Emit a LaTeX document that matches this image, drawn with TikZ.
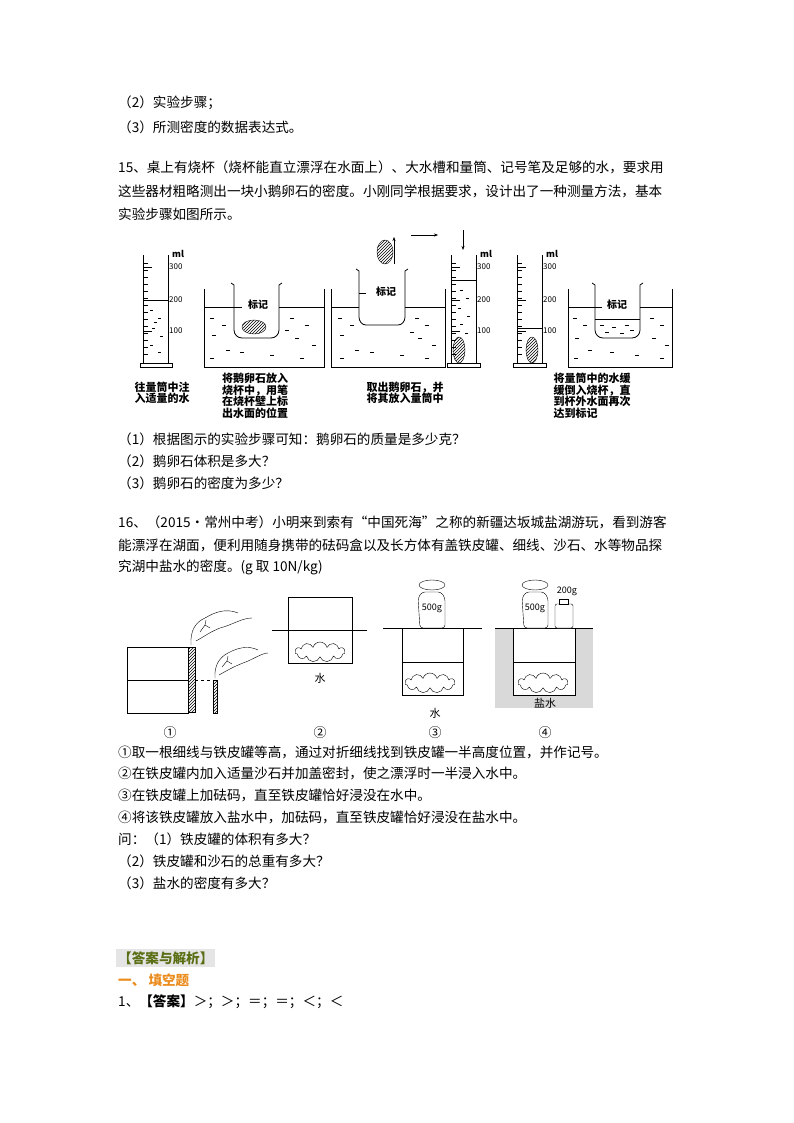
\documentclass[tikz,border=0pt]{standalone}
\usepackage{fontspec}
\setmainfont{Noto Sans CJK SC}
\usetikzlibrary{shapes.symbols,patterns,arrows.meta}
\definecolor{olivetxt}{RGB}{90,110,20}
\definecolor{orangetxt}{RGB}{235,140,30}
\begin{document}
\begin{tikzpicture}[x=1pt,y=-1pt,
 tl/.style={anchor=west,inner sep=0,font=\fontsize{13.6}{15}\selectfont},
 capt/.style={align=left,inner sep=0,font=\fontsize{11}{11.5}\selectfont\bfseries},
 scl/.style={anchor=west,inner sep=0,font=\fontsize{8}{9}\selectfont},
 ln/.style={line width=0.8pt},
 rock/.style={cloud,cloud puffs=11,draw,fill=white,minimum width=30,minimum height=16,inner sep=0},
 wtr/.style={line width=0.5pt},
 num/.style={inner sep=0,font=\fontsize{13}{13}\selectfont}]
\useasboundingbox (0,0) rectangle (794,1123);
% text
\node[tl] (t1) at (118,103) {（2）实验步骤；};
\node[tl] (t2) at (118,127) {（3）所测密度的数据表达式。};
\node[tl] (t3) at (118,167) {15、桌上有烧杯（烧杯能直立漂浮在水面上）、大水槽和量筒、记号笔及足够的水，要求用};
\node[tl] (t4) at (118,191) {这些器材粗略测出一块小鹅卵石的密度。小刚同学根据要求，设计出了一种测量方法，基本};
\node[tl] (t5) at (118,214) {实验步骤如图所示。};
\node[tl] (q1) at (118,439) {（1）根据图示的实验步骤可知：鹅卵石的质量是多少克？};
\node[tl] (q2) at (118,461) {（2）鹅卵石体积是多大？};
\node[tl] (q3) at (118,483) {（3）鹅卵石的密度为多少？};
\node[tl] (s1) at (118,522) {16、（2015•常州中考）小明来到索有“中国死海”之称的新疆达坂城盐湖游玩，看到游客};
\node[tl] (s2) at (118,545) {能漂浮在湖面，便利用随身携带的砝码盒以及长方体有盖铁皮罐、细线、沙石、水等物品探};
\node[tl] (s3) at (118,567) {究湖中盐水的密度。(g 取 10N/kg)};
\node[tl] (p1) at (118,752) {①取一根细线与铁皮罐等高，通过对折细线找到铁皮罐一半高度位置，并作记号。};
\node[tl] (p2) at (118,773) {②在铁皮罐内加入适量沙石并加盖密封，使之漂浮时一半浸入水中。};
\node[tl] (p3) at (118,795) {③在铁皮罐上加砝码，直至铁皮罐恰好浸没在水中。};
\node[tl] (p4) at (118,817) {④将该铁皮罐放入盐水中，加砝码，直至铁皮罐恰好浸没在盐水中。};
\node[tl] (p5) at (118,839) {问：（1）铁皮罐的体积有多大？};
\node[tl] (p6) at (118,861) {（2）铁皮罐和沙石的总重有多大？};
\node[tl] (p7) at (118,883) {（3）盐水的密度有多大？};
\node[tl,fill=black!10,inner sep=2pt,text=olivetxt,font=\fontsize{13.6}{15}\selectfont\bfseries] (ans) at (116,958) {【答案与解析】};
\node[tl,text=orangetxt,font=\fontsize{13.6}{15}\selectfont\bfseries] (tk) at (118,980) {一、 填空题};
\node[tl] (a1) at (118,1002) {1、\textbf{【答案】}＞；＞；＝；＝；＜；＜};

% ---------- figure 1 ----------
% cylinder 1
\draw[ln] (143.5,255) -- (143.5,363) (168.7,255) -- (168.7,363);
\draw[ln] (140,363) rectangle (172,367);
\draw (143.5,300) -- (168.7,300);
\foreach \y in {263,270,...,360} \draw (143.5,\y) -- (148,\y);
\foreach \y in {267,300,331} \draw (143.5,\y) -- (152,\y);
\foreach \x/\y in {150/310,158/318,152/328,160/336,150/345,158/352,154/322} \draw (\x,\y) -- +(3,0);
\node[scl] (c1a) at (169,267) {300};
\node[scl] (c1b) at (169,300) {200};
\node[scl] (c1c) at (169,331) {100};
\node[scl,font=\fontsize{9}{9}\selectfont\bfseries\itshape] (c1m) at (172,254) {ml};
% tank 1
\draw[ln] (204,289) -- (204,367) -- (324,367) -- (324,289);
\draw (204,307) -- (234,307) (279,307) -- (324,307);
\draw[ln] (231,283) -- (234,285) -- (234,330) to[out=-90,in=180] (242,338) -- (271,338) to[out=0,in=-90] (279,330) -- (279,285) -- (282,283);
\draw (234,307) -- (242,307);
\node[inner sep=1pt,font=\fontsize{10}{10}\selectfont\bfseries] (bj1) at (258,305) {标记};
\draw[pattern=north east lines] (254,327) ellipse (12 and 7);
\foreach \x/\y in {210/318,222/325,212/335,226/350,210/358,290/318,305/325,295/338,312/345,240/352,270/355,300/358,285/330} \draw[wtr] (\x,\y) -- +(4,0);
% tank 2
\draw[ln] (331,289) -- (331,367) -- (445,367) -- (445,289);
\draw (331,307) -- (359,307) (405,307) -- (445,307);
\draw[ln] (356,269) -- (359,271) -- (359,317) to[out=-90,in=180] (366,325) -- (398,325) to[out=0,in=-90] (405,317) -- (405,271) -- (408,269);
\draw (359,293) -- (366,293);
\node[inner sep=1pt,font=\fontsize{10}{10}\selectfont\bfseries] (bj2) at (386,292) {标记};
\draw[pattern=north east lines] (385,252) ellipse (8 and 12);
\foreach \x/\y in {338/318,350/325,340/335,355/350,340/358,415/318,425/325,418/338,432/345,370/352,400/355,425/358,410/332} \draw[wtr] (\x,\y) -- +(4,0);
\coordinate (au1) at (394,264); \coordinate (au2) at (394,237);
\draw[-{Stealth[length=4pt]}] (au1) -- (au2);
\coordinate (ah1) at (411,235); \coordinate (ah2) at (438,235);
\draw[-{Stealth[length=4pt]}] (ah1) -- (ah2);
\coordinate (ad1) at (463,230); \coordinate (ad2) at (463,250);
\draw[-{Stealth[length=4pt]}] (ad1) -- (ad2);
% cylinder 2
\draw[ln] (451,255) -- (451,363) (476,255) -- (476,363);
\draw[ln] (447,363) rectangle (480,367);
\draw (451,280) -- (476,280);
\foreach \y in {263,270,...,360} \draw (451,\y) -- (455.5,\y);
\foreach \y in {267,300,331} \draw (451,\y) -- (460,\y);
\foreach \x/\y in {460/290,466/298,458/308,467/316,460/324,465/333} \draw (\x,\y) -- +(3,0);
\draw[pattern=north east lines] (459,350) ellipse (6 and 13);
\node[scl] (c2a) at (477,267) {300};
\node[scl] (c2b) at (477,300) {200};
\node[scl] (c2c) at (477,331) {100};
\node[scl,font=\fontsize{9}{9}\selectfont\bfseries\itshape] (c2m) at (480,254) {ml};
% cylinder 3
\draw[ln] (517,255) -- (517,363) (542,255) -- (542,363);
\draw[ln] (513,363) rectangle (546,367);
\draw (517,328) -- (542,328);
\foreach \y in {263,270,...,360} \draw (517,\y) -- (521.5,\y);
\foreach \y in {267,300,331} \draw (517,\y) -- (526,\y);
\draw[pattern=north east lines] (532,350) ellipse (6 and 13);
\node[scl] (c3a) at (543,267) {300};
\node[scl] (c3b) at (543,300) {200};
\node[scl] (c3c) at (543,331) {100};
\node[scl,font=\fontsize{9}{9}\selectfont\bfseries\itshape] (c3m) at (546,254) {ml};
% tank 3
\draw[ln] (568,289) -- (568,367) -- (672,367) -- (672,289);
\draw (568,307) -- (595,307) (640,307) -- (672,307);
\draw[ln] (592,283) -- (595,285) -- (595,330) to[out=-90,in=180] (603,338) -- (632,338) to[out=0,in=-90] (640,330) -- (640,285) -- (643,283);
\draw (595,319) -- (640,319);
\foreach \x/\y in {600/325,612/327,625/325,605/332,620/333,630/330} \draw[wtr] (\x,\y) -- +(4,0);
\draw (595,307) -- (602,307);
\node[inner sep=1pt,font=\fontsize{10}{10}\selectfont\bfseries] (bj3) at (617,305) {标记};
\foreach \x/\y in {573/318,583/325,575/338,588/350,574/358,650/318,660/325,652/338,665/345,610/352,635/355,660/358} \draw[wtr] (\x,\y) -- +(4,0);
% captions
\node[capt] (k1) at (162,393) {往量筒中注\\入适量的水};
\node[capt] (k2) at (255,396) {将鹅卵石放入\\烧杯中，用笔\\在烧杯壁上标\\出水面的位置};
\node[capt] (k3) at (405,393) {取出鹅卵石，并\\将其放入量筒中};
\node[capt] (k4) at (592,396) {将量筒中的水缓\\缓倒入烧杯，直\\到杯外水面再次\\达到标记};

% ---------- figure 2 ----------
% ①
\draw (127,647) rectangle (188,713);
\draw (127,680) -- (188,680);
\draw[pattern=north east lines] (188,647) rectangle (195,712);
\draw[pattern=north east lines] (213,680) rectangle (217,713);
\draw[dashed] (195,680) -- (213,680);
\draw (191,645) .. controls (190,630) and (196,622) .. (205,618) .. controls (215,612) and (226,608) .. (238,613);
\draw (196,641) .. controls (205,636) and (210,632) .. (220,628) .. controls (232,625) and (242,618) .. (252,618);
\draw (200,632) -- (205,625) -- (210,628) (205,625) -- (206,620);
\draw (215,678) .. controls (214,665) and (220,657) .. (228,653) .. controls (237,648) and (248,645) .. (258,650);
\draw (219,675) .. controls (228,670) and (233,667) .. (243,663) .. controls (252,660) and (262,653) .. (268,653);
\draw (222,667) -- (227,661) -- (232,664) (227,661) -- (228,656);
\node[num] (n1) at (170,733) {①};
% ②
\draw (288,597) rectangle (352,663);
\draw (272,630) -- (367,630);
\node[rock,minimum width=50,minimum height=20] (r2) at (320,652) {};
\node[inner sep=0,font=\fontsize{11}{12}\selectfont] (w2) at (320,678) {水};
\node[num] (n2) at (320,733) {②};
% ③
\draw (383,628) -- (482,628);
\draw (402,628) rectangle (463,695);
\draw (402,662) -- (463,662);
\node[rock,minimum width=50,minimum height=20] (r3) at (430,683) {};
\draw[rounded corners=3] (420,628) -- (418,598) -- (422,592) -- (441,592) -- (445,598) -- (445,628) -- cycle;
\draw (432,585) ellipse (13 and 5);
\node[inner sep=0,font=\fontsize{9}{10}\selectfont] (w3a) at (432,608) {500g};
\node[inner sep=0,font=\fontsize{11}{12}\selectfont] (w3) at (435,713) {水};
\node[num] (n3) at (435,733) {③};
% ④
\fill[black!15] (495,628) rectangle (593,708);
\draw (495,628) -- (593,628);
\draw[fill=white] (513,628) rectangle (575,695);
\draw (513,662) -- (575,662);
\node[rock,minimum width=50,minimum height=20] (r4) at (543,683) {};
\draw[rounded corners=3,fill=white] (524,628) -- (522,598) -- (526,592) -- (544,592) -- (548,598) -- (548,628) -- cycle;
\draw[fill=white] (535,585) ellipse (13 and 5);
\node[inner sep=0,font=\fontsize{9}{10}\selectfont] (w4a) at (535,608) {500g};
\draw[rounded corners=2,fill=white] (555,628) -- (555,604) -- (573,604) -- (573,628) -- cycle;
\draw[fill=white] (559,604) rectangle (568,599);
\node[inner sep=0,font=\fontsize{9}{10}\selectfont] (w4b) at (567,591) {200g};
\node[inner sep=0,font=\fontsize{11}{12}\selectfont] (w4) at (545,703) {盐水};
\node[num] (n4) at (545,733) {④};
\end{tikzpicture}
\end{document}
